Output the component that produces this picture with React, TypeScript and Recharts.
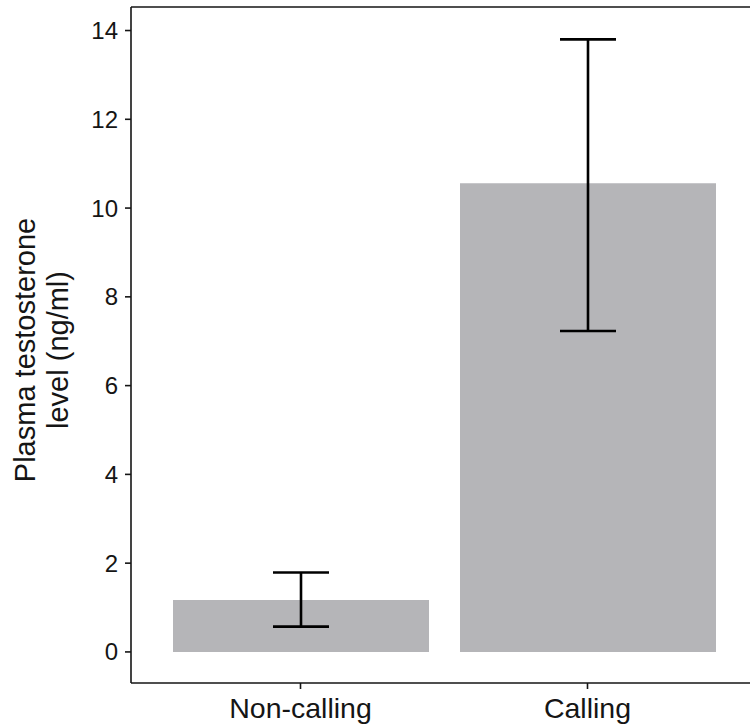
import React from 'react';
import { BarChart, Bar, XAxis, YAxis, ErrorBar, ReferenceLine } from 'recharts';

// Plasma testosterone by calling status: means with lower/upper error limits
const groups = ['Non-calling', 'Calling'];
const meanLevel = [1.17, 10.56];
const lowerLimit = [0.57, 7.23];
const upperLimit = [1.79, 13.8];
const yTicks = [0, 2, 4, 6, 8, 10, 12, 14];

const Y_MIN = -0.7;
const Y_MAX = 14.53;

const data = groups.map((g, i) => ({
  group: g,
  level: meanLevel[i],
  err: [meanLevel[i] - lowerLimit[i], upperLimit[i] - meanLevel[i]],
}));

const FONT = '"Liberation Sans", Arial, Helvetica, sans-serif';
const INK = '#151515';

const YTitle = () => (
  <text
    transform="translate(35, 350) rotate(-90)"
    textAnchor="middle"
    fontFamily={FONT}
    fontSize={29}
    fill={INK}
  >
    <tspan x={0} y={0}>Plasma testosterone</tspan>
    <tspan x={0} y={33}>level (ng/ml)</tspan>
  </text>
);

// plain horizontal rule for the top edge of the panel
const TopRule = (p: any) => (
  <path d={`M${p.x1},${p.y1}H${p.x2}`} stroke={INK} strokeWidth={1.6} fill="none" />
);

export default function App() {
  return (
    <div style={{ position: 'absolute', top: 0, left: 0, background: '#fff', width: 750, height: 728, overflow: 'hidden' }}>
      <BarChart
        width={750}
        height={728}
        data={data}
        margin={{ top: 7, right: 0, bottom: 0, left: 0 }}
        barSize={256}
        accessibilityLayer={false}
      >
        <XAxis
          dataKey="group"
          height={45}
          padding={{ left: 26, right: 19 }}
          axisLine={{ stroke: INK, strokeWidth: 1.6 }}
          tickLine={{ stroke: INK, strokeWidth: 1.6 }}
          tickSize={6}
          tickMargin={9}
          tick={{ fontFamily: FONT, fontSize: 28.5, fill: INK }}
        />
        <YAxis
          type="number"
          domain={[Y_MIN, Y_MAX]}
          ticks={yTicks}
          allowDataOverflow
          width={131}
          axisLine={{ stroke: INK, strokeWidth: 1.6 }}
          tickLine={{ stroke: INK, strokeWidth: 1.6 }}
          tickSize={6}
          tickMargin={7}
          tick={{ fontFamily: FONT, fontSize: 24, fill: INK }}
          label={<YTitle />}
        />
        <ReferenceLine y={Y_MAX} shape={TopRule} ifOverflow="visible" />
        <Bar dataKey="level" fill="#b5b5b8" isAnimationActive={false}>
          <ErrorBar dataKey="err" width={28} stroke="#000" strokeWidth={2.6} direction="y" />
        </Bar>
      </BarChart>
    </div>
  );
}
